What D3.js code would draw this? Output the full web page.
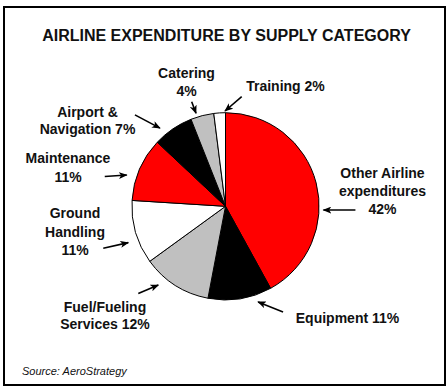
<!DOCTYPE html>
<html>
<head>
<meta charset="utf-8">
<script src="https://cdn.jsdelivr.net/npm/d3@7"></script>
<style>
  html, body { margin: 0; padding: 0; background: #fff; }
  svg { display: block; }
  text { font-family: "Liberation Sans", Arial, sans-serif; fill: #111; }
</style>
</head>
<body>
<svg id="chart" width="448" height="392"></svg>
<script>
// ---- data ----
const categories = ["Other Airline expenditures", "Equipment", "Fuel/Fueling Services",
  "Ground Handling", "Maintenance", "Airport & Navigation", "Catering", "Training"];
const values = [42, 11, 12, 11, 11, 7, 4, 2];
const labelLines = [
  ["Other Airline", "expenditures", "42%"],
  ["Equipment 11%"],
  ["Fuel/Fueling", "Services 12%"],
  ["Ground", "Handling", "11%"],
  ["Maintenance", "11%"],
  ["Airport &", "Navigation 7%"],
  ["Catering", "4%"],
  ["Training 2%"]
];
const title = "AIRLINE EXPENDITURE BY SUPPLY CATEGORY";
const source = "Source: AeroStrategy";

// ---- layout / style ----
const fills = ["#ff0000", "#000000", "#c0c0c0", "#ffffff", "#ff0000", "#000000", "#c0c0c0", "#ffffff"];
const W = 448, H = 392;
const cx = 225.5, cy = 206.3, R = 93.6;
// annotation layout: arrow tip angle (deg, clockwise from top), tip distance, tail offset, label anchor
const annot = [
  {ang: 92.2, dist: 98, tdx: 32, tdy: 0, lx: 382.5, ly: 178, lh: 18},
  {ang: 161.2, dist: 101, tdx: 25, tdy: 10, lx: 347.5, ly: 323, lh: 18},
  {ang: 220.5, dist: 103.5, tdx: -20, tdy: 8.5, lx: 105, ly: 312, lh: 17},
  {ang: 249.5, dist: 103.8, tdx: -25, tdy: 5.6, lx: 75, ly: 218, lh: 18.5},
  {ang: 287.6, dist: 103.6, tdx: -22, tdy: 1.5, lx: 68, ly: 163, lh: 19},
  {ang: 320, dist: 102, tdx: -25, tdy: -13.3, lx: 87.5, ly: 117, lh: 17},
  {ang: 342.4, dist: 97.6, tdx: -4.3, tdy: -11.6, lx: 186.5, ly: 78, lh: 17.5},
  {ang: 359.7, dist: 95.3, tdx: 16.7, tdy: -14.3, lx: 285.5, ly: 91, lh: 17}
];

const svg = d3.select("#chart");

// frame
svg.append("rect").attr("x", 4).attr("y", 7).attr("width", 441).attr("height", 378)
  .attr("fill", "#fff").attr("stroke", "#000").attr("stroke-width", 2);

// title
svg.append("text").attr("x", 226.5).attr("y", 41).attr("text-anchor", "middle")
  .style("font-size", "16px").style("font-weight", "bold").text(title);

// pie
const pie = d3.pie().sort(null).value(d => d);
const arcs = pie(values);
const arc = d3.arc().innerRadius(0).outerRadius(R);
const g = svg.append("g").attr("transform", `translate(${cx},${cy})`);
g.selectAll("path").data(arcs).join("path")
  .attr("d", arc)
  .attr("fill", (d, i) => fills[i])
  .attr("stroke", "#000").attr("stroke-width", 1).attr("stroke-linejoin", "round");

// arrow marker
const defs = svg.append("defs");
defs.append("marker").attr("id", "ah").attr("markerUnits", "userSpaceOnUse")
  .attr("viewBox", "0 0 10 8").attr("refX", 9).attr("refY", 4)
  .attr("markerWidth", 9).attr("markerHeight", 7).attr("orient", "auto")
  .append("path").attr("d", "M0,0 L10,4 L0,8 L2.5,4 Z").attr("fill", "#000");

// arrows + labels
annot.forEach((a, i) => {
  const t = a.ang * Math.PI / 180;
  const x2 = cx + a.dist * Math.sin(t), y2 = cy - a.dist * Math.cos(t);
  const x1 = x2 + a.tdx, y1 = y2 + a.tdy;
  svg.append("line").attr("x1", x1).attr("y1", y1).attr("x2", x2).attr("y2", y2)
    .attr("stroke", "#000").attr("stroke-width", 1.6).attr("marker-end", "url(#ah)");
  const txt = svg.append("text").attr("text-anchor", "middle")
    .style("font-size", "14px").style("font-weight", "bold");
  labelLines[i].forEach((ln, k) => {
    txt.append("tspan").attr("x", a.lx).attr("y", a.ly + k * a.lh).text(ln);
  });
});

// source
svg.append("text").attr("x", 22).attr("y", 375)
  .style("font-size", "11px").style("font-style", "italic").text(source);
</script>
</body>
</html>
